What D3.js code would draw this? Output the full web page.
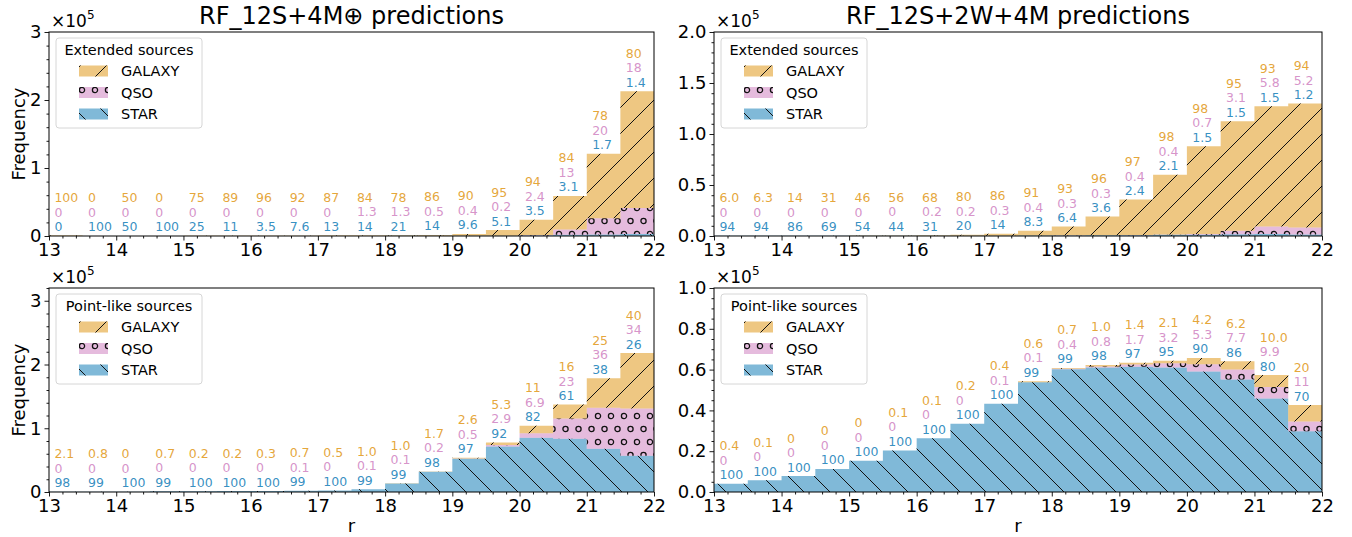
<!DOCTYPE html>
<html>
<head>
<meta charset="utf-8">
<script src="https://cdn.jsdelivr.net/npm/d3@7"></script>
<style>
  body { margin: 0; background: #fff; }
  svg { font-family: "DejaVu Sans", sans-serif; }
</style>
</head>
<body>
<div id="chart"></div>
<script>
// bins of r magnitude (left edges, width 0.5)
const binStarts = [13, 13.5, 14, 14.5, 15, 15.5, 16, 16.5, 17, 17.5, 18, 18.5, 19, 19.5, 20, 20.5, 21, 21.5];
const xTicks = [13, 14, 15, 16, 17, 18, 19, 20, 21, 22];
const classes = ["GALAXY", "QSO", "STAR"];

// RF_12S+4M⊕, extended sources (total per bin, x1e5) and percentages
const extATotal = [0.006, 0.001, 0.001, 0.001, 0.002, 0.003, 0.004, 0.005, 0.006, 0.008, 0.010, 0.016, 0.030, 0.088, 0.240, 0.590, 1.210, 2.130];
const extAGalaxy = ["100", "0", "50", "0", "75", "89", "96", "92", "87", "84", "78", "86", "90", "95", "94", "84", "78", "80"];
const extAQso = ["0", "0", "0", "0", "0", "0", "0", "0", "0", "1.3", "1.3", "0.5", "0.4", "0.2", "2.4", "13", "20", "18"];
const extAStar = ["0", "100", "50", "100", "25", "11", "3.5", "7.6", "13", "14", "21", "14", "9.6", "5.1", "3.5", "3.1", "1.7", "1.4"];

// RF_12S+2W+4M, extended sources
const extBTotal = [0.002, 0.002, 0.002, 0.003, 0.004, 0.005, 0.007, 0.013, 0.023, 0.052, 0.092, 0.190, 0.357, 0.600, 0.879, 1.125, 1.272, 1.298];
const extBGalaxy = ["6.0", "6.3", "14", "31", "46", "56", "68", "80", "86", "91", "93", "96", "97", "98", "98", "95", "93", "94"];
const extBQso = ["0", "0", "0", "0", "0", "0", "0.2", "0.2", "0.3", "0.4", "0.3", "0.3", "0.4", "0.4", "0.7", "3.1", "5.8", "5.2"];
const extBStar = ["94", "94", "86", "69", "54", "44", "31", "20", "14", "8.3", "6.4", "3.6", "2.4", "2.1", "1.5", "1.5", "1.5", "1.2"];

// RF_12S+4M⊕, point-like sources
const ptATotal = [0.003, 0.003, 0.004, 0.010, 0.012, 0.014, 0.015, 0.018, 0.025, 0.042, 0.136, 0.323, 0.537, 0.777, 1.038, 1.372, 1.784, 2.180];
const ptAGalaxy = ["2.1", "0.8", "0", "0.7", "0.2", "0.2", "0.3", "0.7", "0.5", "1.0", "1.0", "1.7", "2.6", "5.3", "11", "16", "25", "40"];
const ptAQso = ["0", "0", "0", "0", "0", "0", "0", "0.1", "0", "0.1", "0.1", "0.2", "0.5", "2.9", "6.9", "23", "36", "34"];
const ptAStar = ["98", "99", "100", "99", "100", "100", "100", "99", "100", "99", "99", "98", "97", "92", "82", "61", "38", "26"];

// RF_12S+2W+4M, point-like sources
const ptBTotal = [0.041, 0.057, 0.078, 0.113, 0.153, 0.204, 0.263, 0.334, 0.432, 0.543, 0.608, 0.623, 0.633, 0.643, 0.657, 0.641, 0.573, 0.426];
const ptBGalaxy = ["0.4", "0.1", "0", "0", "0", "0.1", "0.1", "0.2", "0.4", "0.6", "0.7", "1.0", "1.4", "2.1", "4.2", "6.2", "10.0", "20"];
const ptBQso = ["0", "0", "0", "0", "0", "0", "0", "0", "0.1", "0.1", "0.4", "0.8", "1.7", "3.2", "5.3", "7.7", "9.9", "11"];
const ptBStar = ["100", "100", "100", "100", "100", "100", "100", "100", "100", "99", "99", "98", "97", "95", "90", "86", "80", "70"];

const yTicksA = [0, 1, 2, 3];
const yTicksB = [0, 0.5, 1.0, 1.5, 2.0];
const yTicksD = [0, 0.2, 0.4, 0.6, 0.8, 1.0];

const colors = { GALAXY: "#de8f05", QSO: "#cc78bc", STAR: "#0173b2" };
const hatches = { GALAXY: "hatchFwd", QSO: "hatchCirc", STAR: "hatchBack" };

const panels = [
  { col: 0, row: 0, title: "RF_12S+4M\u2295 predictions", legend: "Extended sources",
    total: extATotal, galaxy: extAGalaxy, qso: extAQso, star: extAStar,
    yMax: 3, yTicks: yTicksA, fmt: d3.format("d"), minor: 0.2 },
  { col: 1, row: 0, title: "RF_12S+2W+4M predictions", legend: "Extended sources",
    total: extBTotal, galaxy: extBGalaxy, qso: extBQso, star: extBStar,
    yMax: 2, yTicks: yTicksB, fmt: d3.format(".1f"), minor: 0.1 },
  { col: 0, row: 1, legend: "Point-like sources",
    total: ptATotal, galaxy: ptAGalaxy, qso: ptAQso, star: ptAStar,
    yMax: 3.2, yTicks: yTicksA, fmt: d3.format("d"), minor: 0.2 },
  { col: 1, row: 1, legend: "Point-like sources",
    total: ptBTotal, galaxy: ptBGalaxy, qso: ptBQso, star: ptBStar,
    yMax: 1, yTicks: yTicksD, fmt: d3.format(".1f"), minor: 0.05 }
];

const svg = d3.select("#chart").append("svg")
  .attr("width", 1352)
  .attr("height", 537);

// hatch patterns (drawn over the colour fill)
const defs = svg.append("defs");
const P = 26;
defs.append("pattern").attr("id", "hatchFwd")
  .attr("patternUnits", "userSpaceOnUse").attr("width", P).attr("height", P)
  .append("path")
  .attr("d", `M0,${P}L${P},0M-4,4L4,-4M${P - 4},${P + 4}L${P + 4},${P - 4}`)
  .attr("stroke", "#111").attr("stroke-width", 1);
defs.append("pattern").attr("id", "hatchBack")
  .attr("patternUnits", "userSpaceOnUse").attr("width", P).attr("height", P)
  .append("path")
  .attr("d", `M0,0L${P},${P}M-4,${P - 4}L4,${P + 4}M${P - 4},-4L${P + 4},4`)
  .attr("stroke", "#111").attr("stroke-width", 1);
const circ = defs.append("pattern").attr("id", "hatchCirc")
  .attr("patternUnits", "userSpaceOnUse").attr("width", P / 2).attr("height", P);
[[0, 0], [P / 2, 0], [0, P], [P / 2, P], [P / 4, P / 2]].forEach(([cx, cy]) => {
  circ.append("circle").attr("cx", cx).attr("cy", cy).attr("r", 2.6)
    .attr("fill", "none").attr("stroke", "#111").attr("stroke-width", 1.3);
});

panels.forEach(p => {
  const [x0, x1] = p.col ? [714, 1322] : [49, 654];
  const [y0, y1] = p.row ? [288, 492] : [32, 236];
  const x = d3.scaleLinear().domain([13, 22]).range([x0, x1]);
  const y = d3.scaleLinear().domain([0, p.yMax]).range([y1, y0]);
  const g = svg.append("g");

  // stacked counts per bin
  const rows = binStarts.map((b, i) => {
    const t = p.total[i];
    const s = t * (+p.star[i]) / 100;
    const q = t * (+p.qso[i]) / 100;
    return { b, t, s, q, i };
  });
  const layers = [
    { key: "STAR", lo: r => 0, hi: r => r.s },
    { key: "QSO", lo: r => r.s, hi: r => r.s + r.q },
    { key: "GALAXY", lo: r => r.s + r.q, hi: r => r.t }
  ];
  const area = d3.area().x(d => x(d.x)).y0(d => y(d.lo)).y1(d => y(d.hi));
  layers.forEach(l => {
    const pts = rows.flatMap(r => [
      { x: r.b, lo: l.lo(r), hi: l.hi(r) },
      { x: r.b + 0.5, lo: l.lo(r), hi: l.hi(r) }
    ]);
    g.append("path").attr("d", area(pts))
      .attr("fill", colors[l.key]).attr("fill-opacity", 0.5);
    g.append("path").attr("d", area(pts))
      .attr("fill", `url(#${hatches[l.key]})`);
  });

  // percentage labels above each bin
  const labels = g.append("g").attr("font-size", 12.5);
  rows.forEach(r => {
    const tx = x(r.b + 0.08);
    const base = y(r.t) - 4.5;
    [["STAR", p.star[r.i], 0], ["QSO", p.qso[r.i], 1], ["GALAXY", p.galaxy[r.i], 2]].forEach(([k, txt, n]) => {
      const by = base - n * 14.5;
      const box = labels.append("rect");
      const t = labels.append("text").attr("x", tx).attr("y", by)
        .attr("fill", colors[k]).attr("fill-opacity", 0.8).text(txt);
      const w = t.node().getComputedTextLength();
      box.attr("x", tx - 1.5).attr("y", by - 11).attr("width", w + 3).attr("height", 14.5)
        .attr("fill", "#fff");
    });
  });

  // axes
  g.append("g").attr("transform", `translate(0,${y1})`)
    .call(d3.axisBottom(x).tickValues(xTicks).tickSize(4.5).tickPadding(3).tickFormat(d3.format("d")));
  const xMinor = d3.range(13, 22.001, 0.2).filter(v => Math.abs(v - Math.round(v)) > 1e-6);
  g.append("g").attr("transform", `translate(0,${y1})`)
    .call(d3.axisBottom(x).tickValues(xMinor).tickSize(2.5).tickFormat(""));
  g.append("g").attr("transform", `translate(${x0},0)`)
    .call(d3.axisLeft(y).tickValues(p.yTicks).tickSize(4.5).tickPadding(3).tickFormat(p.fmt));
  const yMinor = d3.range(0, p.yMax + 1e-6, p.minor)
    .filter(v => !p.yTicks.some(t => Math.abs(t - v) < 1e-6));
  g.append("g").attr("transform", `translate(${x0},0)`)
    .call(d3.axisLeft(y).tickValues(yMinor).tickSize(2.5).tickFormat(""));
  g.selectAll(".domain").remove();
  g.selectAll(".tick line").attr("stroke", "#000").attr("stroke-width", 0.9);
  g.selectAll(".tick text").attr("font-size", 18).attr("font-family", "DejaVu Sans").attr("fill", "#000");

  g.append("rect").attr("x", x0).attr("y", y0).attr("width", x1 - x0).attr("height", y1 - y0)
    .attr("fill", "none").attr("stroke", "#000").attr("stroke-width", 1);

  // offset text x10^5
  const off = g.append("text").attr("x", x0 + 2).attr("y", y0 - 5).attr("font-size", 17);
  off.append("tspan").text("\u00d710");
  off.append("tspan").attr("dy", -8).attr("font-size", 12).text("5");

  if (p.title) {
    g.append("text").attr("x", (x0 + x1) / 2).attr("y", 24).attr("text-anchor", "middle")
      .attr("font-size", 24).text(p.title);
  }
  if (p.col === 0) {
    g.append("text").attr("transform", `translate(25,${(y0 + y1) / 2}) rotate(-90)`)
      .attr("text-anchor", "middle").attr("font-size", 18).text("Frequency");
  }
  if (p.row === 1) {
    g.append("text").attr("x", (x0 + x1) / 2).attr("y", 532).attr("text-anchor", "middle")
      .attr("font-size", 18).text("r");
  }

  // legend
  const lg = g.append("g").attr("transform", `translate(${x0 + 7},${y0 + 6})`);
  lg.append("rect").attr("width", 146).attr("height", 90).attr("rx", 3)
    .attr("fill", "#fff").attr("fill-opacity", 0.8).attr("stroke", "#d6d6d6");
  lg.append("text").attr("x", 73).attr("y", 17).attr("text-anchor", "middle")
    .attr("font-size", 14.5).text(p.legend);
  classes.forEach((c, i) => {
    const cy = 33 + i * 21.5;
    lg.append("rect").attr("x", 23).attr("y", cy - 5.5).attr("width", 29).attr("height", 11)
      .attr("fill", colors[c]).attr("fill-opacity", 0.5);
    lg.append("rect").attr("x", 23).attr("y", cy - 5.5).attr("width", 29).attr("height", 11)
      .attr("fill", `url(#${hatches[c]})`);
    lg.append("text").attr("x", 65).attr("y", cy + 5).attr("font-size", 14.5).text(c);
  });
});
</script>
</body>
</html>
